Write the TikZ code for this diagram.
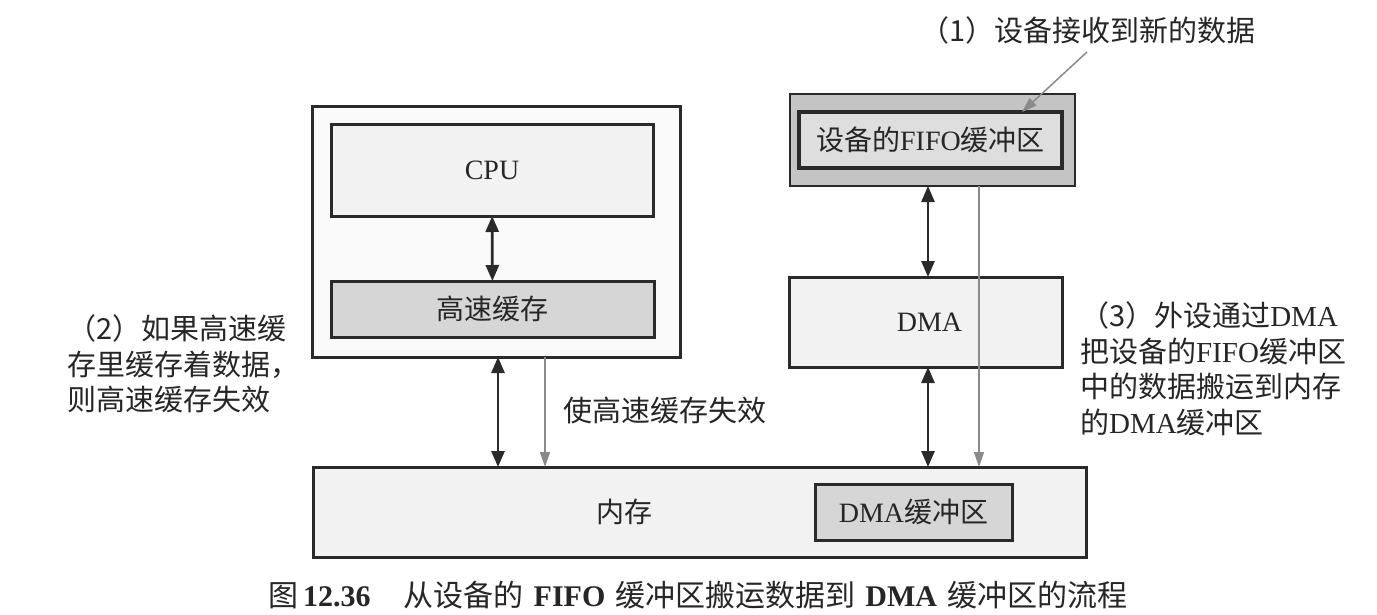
\documentclass[tikz,border=0pt]{standalone}
\usepackage{fontspec}
\setmainfont{Liberation Serif}
\newfontfamily\cjk{Noto Sans CJK SC}
\usetikzlibrary{arrows.meta}
\definecolor{dk}{HTML}{2A2A2A}
\definecolor{txt}{HTML}{262626}
\definecolor{lt}{HTML}{F2F2F2}
\definecolor{mid}{HTML}{D6D6D6}
\definecolor{fout}{HTML}{C4C4C4}
\definecolor{fin}{HTML}{DEDEDE}
\definecolor{gr}{HTML}{8A8A8A}
\newcommand\myfs{\fontsize{28}{36}\selectfont}
\newcommand\labfs{\fontsize{29}{35.5}\selectfont}
\newcommand\capfs{\fontsize{30}{36}\selectfont}
\begin{document}
\begin{tikzpicture}[x=1pt,y=-1pt,
  box/.style={draw=dk, line width=3pt, fill=lt, inner sep=0pt, outer sep=0pt, font=\myfs, text=txt},
  lbl/.style={font=\labfs, text=txt, inner sep=0pt, align=left},
  dbl/.style={draw=dk, line width=2.8pt, {Triangle[length=16pt,width=13pt]}-{Triangle[length=16pt,width=13pt]}},
  gy/.style={draw=gr, line width=1.5pt, -{Triangle[length=15pt,width=10pt]}}]
\useasboundingbox (0,0) rectangle (1377,614);
\fill[white] (0,0) rectangle (1377,614);

% left group
\node[box, fill=white!60!lt, minimum width=368pt, minimum height=251pt] (host) at (496,231.5) {};
\node[box, minimum width=322pt, minimum height=92pt] (cpu) at (492,170) {CPU};
\node[box, fill=mid, minimum width=323pt, minimum height=56pt] (cache) at (492.5,309) {{\cjk 高速缓存}};

% memory
\node[box, minimum width=773pt, minimum height=90pt] (mem) at (699.5,512) {};
\node[lbl, font=\myfs] (memt) at (624,512) {{\cjk 内存}};
\node[box, fill=mid, minimum width=197pt, minimum height=56pt] (dmabuf) at (913.5,512) {DMA{\cjk 缓冲区}};

% right group
\node[box, fill=fout, line width=2.2pt, minimum width=285pt, minimum height=92pt] (fifoout) at (932.5,140) {};
\node[box, fill=fin, line width=3.4pt, minimum width=263pt, minimum height=56pt] (fifoin) at (930.5,140) {{\cjk 设备的}FIFO{\cjk 缓冲区}};
\node[box, minimum width=273pt, minimum height=90pt] (dma) at (925.5,322) {\hspace{8pt}DMA};

% connectors
\draw[dbl] (cpu) -- (cache);
\draw[dbl] ([xshift=2pt]host.south) -- ([xshift=2pt]host.south |- mem.north);
\draw[gy] ([xshift=49pt]host.south) -- ([xshift=49pt]host.south |- mem.north);
\draw[dbl] ([xshift=-4.5pt]fifoout.south) -- ([xshift=-4.5pt]fifoout.south |- dma.north);
\draw[dbl] ([xshift=2.5pt]dma.south) -- ([xshift=2.5pt]dma.south |- mem.north);
\draw[gy] ([xshift=46.5pt]fifoout.south) -- ([xshift=46.5pt]fifoout.south |- mem.north);
\coordinate (p1) at (1087,52);
\draw[gy] (p1) -- ([xshift=91.5pt]fifoin.north);

% labels
\node[lbl, anchor=west] (t1) at (920,30) {{\cjk （1）设备接收到新的数据}};
\node[lbl, anchor=west] (t2) at (67,364) {{\cjk （2）如果高速缓}\\{\cjk 存里缓存着数据，}\\{\cjk 则高速缓存失效}};
\node[lbl, anchor=west] (t3) at (1080,369) {{\cjk （3）外设通过}DMA\\{\cjk 把设备的}FIFO{\cjk 缓冲区}\\{\cjk 中的数据搬运到内存}\\{\cjk 的}DMA{\cjk 缓冲区}};
\node[lbl, anchor=west] (t4) at (563,410) {{\cjk 使高速缓存失效}};
\node[lbl, font=\capfs, anchor=west] (cap) at (268,595) {{\cjk 图}\hspace{5pt}\textbf{12.36}\hspace{33pt}{\cjk 从设备的}\hspace{10pt}\textbf{FIFO}\hspace{10pt}{\cjk 缓冲区搬运数据到}\hspace{10pt}\textbf{DMA}\hspace{10pt}{\cjk 缓冲区的流程}};
\end{tikzpicture}
\end{document}
